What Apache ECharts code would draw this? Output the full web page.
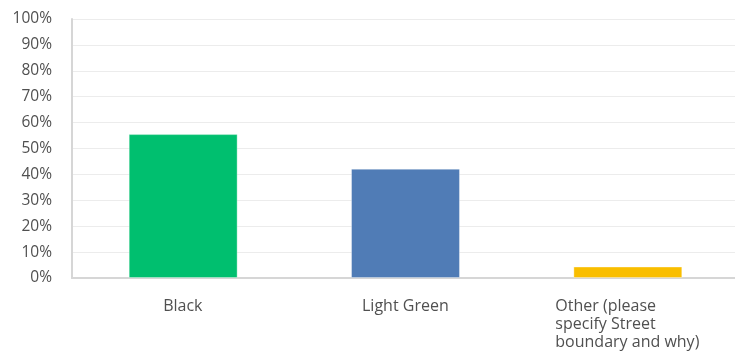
<!DOCTYPE html>
<html>
<head>
<meta charset="utf-8">
<script src="https://cdn.jsdelivr.net/npm/echarts@6/dist/echarts.min.js"></script>
<style>
  html, body { margin: 0; padding: 0; background: #fff; }
  #chart { width: 735px; height: 352px; }
</style>
</head>
<body>
<div id="chart"></div>
<script>
// Answer choices and share of respondents (%)
const categories = ['Black', 'Light Green', 'Other (please\nspecify Street\nboundary and why)'];
const values = [55.56, 42.22, 4.44];
const barColors = ['#00bf6f', '#507cb6', '#f9be00'];
const yTicks = [0, 10, 20, 30, 40, 50, 60, 70, 80, 90, 100];

const FONT = 'Open Sans';
const X_FONT_SIZE = 16;
const Y_FONT_SIZE = 15.5;
const TEXT_COLOR = '#505050';

// Wrapped category labels: block centred under the bar, lines left-aligned inside it
const measureCtx = document.createElement('canvas').getContext('2d');
measureCtx.font = X_FONT_SIZE + 'px "' + FONT + '"';
const labelBlockWidths = categories.map(c =>
  Math.ceil(Math.max(...c.split('\n').map(l => measureCtx.measureText(l).width)))
);

const chart = echarts.init(document.getElementById('chart'));

chart.setOption({
  animation: false,
  grid: { left: 72, top: 19, width: 667, bottom: 74, containLabel: false, outerBoundsMode: 'none' },
  xAxis: {
    type: 'category',
    data: categories,
    axisTick: { show: false },
    axisLine: { lineStyle: { color: '#d6d6d6', width: 2 } },
    axisLabel: {
      interval: 0,
      margin: 19,
      align: 'center',
      verticalAlign: 'top',
      formatter: function (val, idx) {
        const key = 'w' + idx;
        return val.split('\n').map(line => '{' + key + '|' + line + '}').join('\n');
      },
      rich: Object.fromEntries(labelBlockWidths.map((w, i) => ['w' + i, {
        width: w, align: 'left', fontSize: X_FONT_SIZE, lineHeight: 18.2,
        color: TEXT_COLOR, fontFamily: FONT
      }]))
    }
  },
  yAxis: {
    type: 'value',
    min: yTicks[0],
    max: yTicks[yTicks.length - 1],
    interval: 10,
    axisLine: { show: true, lineStyle: { color: '#d6d6d6', width: 2 } },
    axisTick: { show: false },
    splitLine: { lineStyle: { color: '#ececec', width: 1 } },
    axisLabel: {
      margin: 20,
      fontSize: Y_FONT_SIZE,
      color: TEXT_COLOR,
      fontFamily: FONT,
      formatter: v => v + '%'
    }
  },
  series: [{
    type: 'bar',
    barWidth: '49%',
    data: values.map((v, i) => ({ value: v, itemStyle: { color: barColors[i] } })),
    itemStyle: { borderColor: 'rgba(255,255,255,0.35)', borderWidth: 1 }
  }]
});
</script>
</body>
</html>
